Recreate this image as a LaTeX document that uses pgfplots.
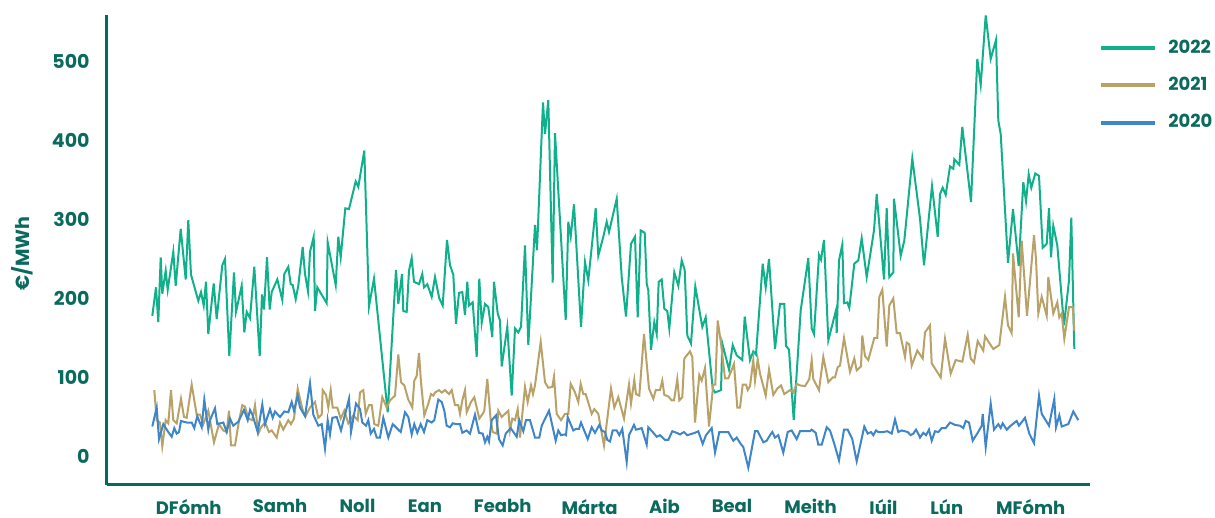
\documentclass[border=0pt]{standalone}
\usepackage{fontspec}
\setmainfont{Poppins}
\usepackage{pgfplots}
\pgfplotsset{compat=1.18}
\definecolor{cGreen}{HTML}{0FB08B}
\definecolor{cTan}{HTML}{B8A268}
\definecolor{cBlue}{HTML}{3F86C8}
\definecolor{cAxis}{HTML}{006B5E}
\definecolor{cText}{HTML}{0B6A5E}
\begin{document}
\begin{tikzpicture}
\begin{axis}[
  at={(0,0)}, anchor=south west,
  width=491.5pt, height=235pt, scale only axis,
  xmin=107, xmax=1090, ymin=-36, ymax=558.5,
  axis x line=bottom, axis y line=left,
  axis line style={-, line width=1.5pt, color=cAxis},
  clip=false,
  xtick={188.7,280,357.5,425,502.7,589.7,664.5,732,810.5,883.5,946.7,1030.7},
  xticklabels={DFómh,Samh,Noll,Ean,Feabh,Márta,Aib,Beal,Meith,Iúil,Lún,MFómh},
  ytick={0,100,200,300,400,500},
  major tick length=0pt, tick style={draw=none},
  /pgf/number format/assume math mode=true,
  ticklabel style={font=\fontsize{9.5}{11}\selectfont\bfseries, text=cText},
  y tick label style={anchor=east, inner sep=0pt, xshift=-8.5pt},
  x tick label style={anchor=north, inner sep=0pt, yshift=-7pt, font=\fontsize{9}{11}\selectfont\bfseries},
  ylabel={€/MWh},
  ylabel style={at={(axis description cs:-0.0858,0.4926)}, anchor=center, font=\fontsize{9.5}{11}\selectfont\bfseries, text=cText},
  legend style={at={(1.0092,0.9483)}, anchor=north west, draw=none, fill=none,
    inner sep=0pt, row sep=10.5pt, column sep=5.5pt, nodes={inner sep=0pt},
    font=\fontsize{9}{11}\selectfont\bfseries, text=cText},
  legend cell align=left,
  legend image code/.code={\draw[#1, line width=2pt] (0pt,0pt) -- (27pt,0pt);},
]
\addplot[cGreen, line width=1pt] coordinates {
(152.3,178)(156,214)(158.3,170)(160.7,252)(162.3,206)(165.7,235)(167.7,211)(173.3,259)(175.7,216)(180.7,288)(185.7,224)(188.3,299)(191,230)(198.3,197)(201,208)(203.7,191)(206,221)(208.3,155)(213.7,219)(216.7,174)(222.3,242)(225,250)(229.3,127)(234,233)(236,183)(241.7,216)(244.3,157)(246.7,183)(250,175)(254.3,240)(259.7,127)(262,205)(264,186)(267,252)(269.7,186)(271.7,208)(277.3,224)(282.3,198)(284.3,231)(288.3,240)(290.7,218)(292.7,217)(295.7,199)(298.3,216)(302.7,265)(305,231)(308,209)(310,259)(313.7,278)(315,184)(317.3,214)(326.7,194)(327.7,271)(335.7,217)(338.3,278)(340.7,252)(345.3,314)(349,313)(355.7,348)(358.3,341)(364.3,387)(369,190)(374,225)(387.7,56)(396,236)(398.3,193)(402,231)(403.3,184)(406.7,183)(409,235)(411.7,251)(414,221)(419,218)(422.3,231)(424,214)(427.3,218)(431.7,202)(435,227)(439.3,200)(442.7,191)(447,274)(450,242)(453.3,230)(456,168)(459,207)(462.3,208)(465,179)(467.3,221)(469,191)(472.7,195)(476.7,126)(479.3,225)(481.7,169)(485,193)(488.3,189)(492.3,151)(494,221)(497.7,181)(500,172)(501.7,114)(507.3,164)(511.7,77)(515,162)(518.3,157)(521,164)(525,267)(528.3,141)(535,293)(537,261)(543,448)(545,408)(548.3,451)(552.7,220)(555,409)(565.7,173)(568.3,297)(570.7,278)(574,319)(581,164)(585,246)(588.3,223)(595.7,314)(598.3,254)(603.3,278)(606.7,297)(609,284)(616.7,326)(621.7,227)(626,177)(631,269)(635,278)(637.7,176)(640.7,286)(644.7,283)(646.7,219)(648.3,210)(651,135)(654.3,170)(656.7,155)(658.7,221)(661.7,224)(664.3,187)(667.3,184)(669.3,162)(674.3,233)(678.3,216)(681.7,248)(684.7,236)(687.3,153)(691,143)(695.3,215)(702.3,164)(705.7,176)(712.7,86)(715,81)(721,84)(722.3,143)(729,110)(732.7,141)(736.7,128)(742.3,122)(744.7,177)(750,122)(753.3,133)(756,129)(762.7,244)(765.7,214)(769,250)(775,136)(780,193)(784.3,193)(786,140)(789,135)(793.7,46)(800.7,185)(808.3,251)(811.7,162)(814,155)(819,255)(821,249)(824,274)(828.3,147)(836,185)(836.7,156)(839,248)(842.3,268)(844,194)(847.3,195)(849.3,188)(854.3,244)(858.3,248)(861.7,276)(866.7,227)(874,286)(876.7,332)(884,224)(886.7,314)(889.3,227)(893.3,233)(894,326)(900.7,254)(904.3,273)(912.3,377)(920,301)(924,242)(932,342)(934,320)(937.7,278)(940,332)(942.7,340)(945.7,331)(950,367)(953.3,364)(954.3,376)(959.3,369)(962.3,417)(971,322)(977.3,503)(980.7,470)(985.7,558)(990.7,503)(996,527)(998.3,425)(1000.7,408)(1008,245)(1013,313)(1018.7,241)(1023.3,347)(1026,323)(1028.7,357)(1031.3,340)(1035.3,358)(1039,355)(1042.7,264)(1046.7,269)(1049,314)(1051,252)(1053.3,292)(1057.3,267)(1064,166)(1069,223)(1071.3,302)(1074.3,136)
};
\addlegendentry{2022}
\addplot[cTan, line width=1pt] coordinates {
(154.3,84)(156.7,46)(160,43)(162.3,13)(165.7,46)(168.3,42)(171,84)(173.3,46)(176.7,42)(181,73)(184,50)(186.7,49)(191.7,91)(196.7,53)(200,53)(203.3,41)(208.3,58)(214,18)(219,41)(223.3,33)(226.7,31)(229,58)(231,14)(235,14)(239,45)(242.3,65)(245,63)(248.3,48)(252.3,46)(255,65)(258.3,29)(261,37)(265,43)(269,31)(271.7,33)(276.7,24)(280,43)(283.3,34)(288.3,46)(291,41)(294,48)(297.7,86)(300,73)(303.3,56)(306,52)(310,62)(315,69)(318.3,49)(321.7,53)(322.7,84)(326,78)(328.3,62)(330.7,84)(332.7,62)(337.3,62)(340.7,48)(344.3,58)(348.3,42)(353.3,52)(357.7,46)(360,81)(363.3,84)(365.7,54)(369,65)(371.7,65)(374.3,41)(378.3,39)(382.3,75)(386.7,62)(390,71)(395,77)(398.3,129)(401,94)(404.3,90)(408.3,72)(412.3,62)(414.3,96)(416.7,102)(419,131)(421,94)(424.3,52)(428.3,67)(431,79)(433.3,77)(435,81)(439,84)(441.7,81)(445,84)(449,79)(451.7,84)(455,65)(458.3,65)(460,54)(462.3,71)(465,84)(466.7,56)(471,69)(474.3,75)(479.3,48)(482.7,54)(484.3,58)(487.3,98)(490.7,46)(492.7,31)(496.7,29)(498.3,58)(501.7,50)(505,54)(508.3,58)(510,33)(512.3,48)(515,46)(517.7,60)(520,24)(525,88)(527.7,69)(531,90)(533,79)(535,90)(540.7,145)(545,94)(548.3,87)(552.3,88)(554,101)(556.7,54)(561,46)(565,54)(568.3,54)(570.7,92)(575,81)(578.3,69)(580.7,92)(583.3,79)(585.7,79)(591.7,54)(594.3,60)(598.3,54)(604,14)(611,86)(614.3,62)(618.3,75)(624,48)(629,91)(631,67)(634.3,97)(636,79)(639.3,77)(644,155)(649,86)(653.3,73)(655.7,84)(660,84)(662.3,96)(664.3,78)(668.3,76)(671.7,71)(674,71)(677.3,98)(679.3,71)(682.3,75)(684.3,124)(690,133)(692.3,126)(695,43)(699.3,103)(701.7,96)(705,112)(709,38)(713.3,91)(715.3,91)(717.7,172)(721,143)(725,99)(728.3,99)(734,117)(737.3,62)(740,62)(742.7,91)(746,91)(747.7,84)(750,89)(753.3,122)(755,96)(757.7,123)(760,105)(765.7,77)(769,110)(773.3,78)(777.3,86)(781,90)(784.3,79)(790,84)(793.3,81)(796.7,92)(800,90)(805,89)(809.3,98)(811.7,122)(813.3,98)(819,84)(823.3,126)(828.3,94)(832.7,100)(835,100)(837.7,113)(840,115)(844,150)(850,107)(854.3,124)(856.7,109)(861,114)(862.3,153)(865,127)(868.3,122)(874.3,150)(877.3,150)(879.3,202)(882.3,211)(886.7,139)(889.3,191)(893.3,200)(896.7,156)(900,156)(905,126)(906.7,144)(909.3,142)(911.7,115)(917.3,134)(922.7,124)(925,157)(930,166)(931.7,118)(940.7,100)(945,149)(950.7,105)(955.7,122)(962.3,120)(967.7,154)(970.7,124)(974,119)(977.7,146)(983.3,134)(985,152)(993.3,136)(999.3,141)(1005,202)(1008,166)(1011.7,156)(1013,257)(1018.7,176)(1021.7,273)(1027,178)(1034,280)(1036,250)(1038.3,181)(1041.7,202)(1046.7,178)(1048.3,227)(1053.3,181)(1057.3,195)(1059.3,176)(1061.7,181)(1064.3,149)(1069,189)(1072.7,189)(1074.3,159)
};
\addlegendentry{2021}
\addplot[cBlue, line width=1pt] coordinates {
(152.3,38)(156.7,62)(159,22)(163.3,41)(168.3,31)(171.7,25)(174.3,36)(176.7,29)(179,31)(181,45)(186.7,43)(191.7,43)(194.3,36)(197.3,51)(201.7,37)(204.3,72)(208.3,34)(210,46)(215,61)(217.3,41)(223.3,43)(226.7,31)(230,48)(233.3,39)(238.3,44)(244,59)(247.7,46)(250,59)(252.7,52)(257.7,31)(262.3,66)(265,41)(270,60)(272.7,49)(275,57)(280,50)(284.3,57)(288.3,56)(291.7,69)(294,58)(297.7,77)(300,62)(305,51)(310,93)(313.3,53)(318.3,39)(321.7,41)(325,10)(327.7,46)(330,28)(332.3,49)(336.7,50)(341,33)(349,73)(351,31)(356,67)(360,60)(362.3,43)(366,39)(368.3,46)(370.7,29)(374,35)(376.7,24)(380,24)(383.3,49)(388.3,24)(392.7,41)(400.7,31)(405,56)(408.3,50)(411.7,28)(414.3,41)(417.3,30)(420.7,41)(424,31)(427.3,46)(431.7,43)(434.3,46)(438.3,72)(441.7,69)(444.3,58)(446.7,39)(450,37)(452.7,42)(456.7,41)(460,41)(462.3,30)(466.7,33)(470,29)(475,53)(479,30)(482.7,29)(485,18)(487.3,25)(489,19)(491.7,46)(496,52)(499,22)(502.7,14)(505.7,29)(510.7,36)(516.7,25)(519.3,46)(523.3,32)(526,46)(530,46)(535,24)(539.3,24)(541.7,39)(549,58)(555.7,20)(558.3,33)(561,27)(564.3,28)(566,27)(567.7,50)(573.3,33)(576,35)(579,35)(581,43)(587.7,22)(591.7,37)(595,30)(599.3,40)(601.7,33)(605,31)(607.3,21)(610,19)(612.7,33)(616.7,33)(619.3,27)(622.3,35)(626.7,-7)(629,27)(634,40)(636,34)(639.3,35)(641.7,36)(646.7,15)(648.3,37)(652.7,31)(656.7,25)(660,27)(665,21)(668.3,21)(672.3,32)(676.7,30)(680,28)(684,31)(687.3,27)(695,30)(698.3,32)(702.7,16)(706,27)(711.7,36)(715,5)(719.3,31)(724.3,31)(728.3,31)(733.3,20)(736.7,24)(740.7,16)(743.3,12)(748.3,-14)(755,32)(757.7,32)(763.3,18)(766.7,20)(770,27)(772.3,31)(775,24)(778.3,27)(783.3,5)(787.7,31)(791.7,33)(796.7,22)(800,32)(810,32)(811.7,34)(815.7,30)(818.3,15)(821.7,15)(826.7,37)(830,33)(834.3,16)(839,-5)(844,34)(847.7,34)(852.3,22)(856.7,-6)(864.3,38)(867.7,29)(871,31)(873.3,27)(876,33)(878.3,31)(883.3,31)(887.3,32)(891.7,29)(895,47)(898.3,31)(901.7,33)(907.7,31)(910.7,27)(913.3,29)(916,34)(919,27)(920,24)(923.3,30)(926,27)(929,34)(931.7,20)(935,32)(938.3,31)(941.7,36)(945.7,36)(950,43)(955,40)(960,39)(963.3,36)(965.7,45)(969,43)(972.7,20)(977.7,30)(981.7,39)(982.7,54)(985.7,12)(990.7,67)(994,34)(998.3,41)(1000.7,36)(1002.7,42)(1006.7,34)(1010.7,39)(1016.7,45)(1019,39)(1025,49)(1029.3,29)(1034,17)(1039,77)(1041.7,54)(1049,39)(1054.3,73)(1056,37)(1059.3,52)(1061.7,38)(1068.3,41)(1073.3,57)(1078.3,46)
};
\addlegendentry{2020}
\end{axis}
\pgfresetboundingbox
\path (-53.5pt,-16.5pt) rectangle (554pt,242.5pt);
\end{tikzpicture}
\end{document}
